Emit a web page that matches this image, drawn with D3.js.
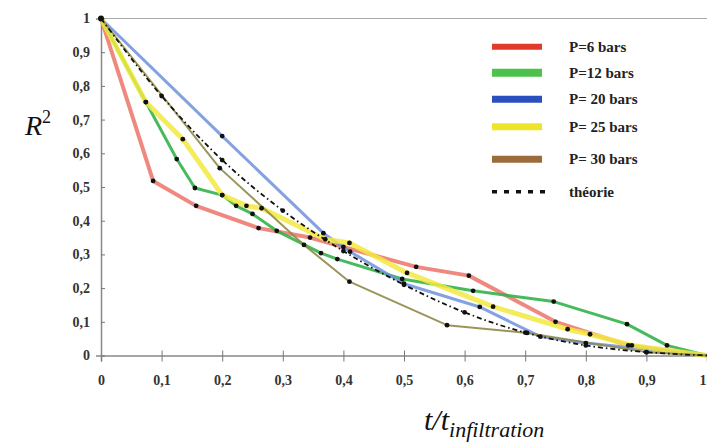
<!DOCTYPE html>
<html>
<head>
<meta charset="utf-8">
<script src="https://cdn.jsdelivr.net/npm/d3@7"></script>
<style>
  body { margin: 0; background: #fff; }
</style>
</head>
<body>
<svg id="chart"></svg>
<script>
const w = 707;
const h = 446;
const x0 = 101, x1 = 707;
const y0 = 355.5, y1 = 18.5;
const serif = "'Liberation Serif', 'Times New Roman', 'DejaVu Serif', serif";

// séries
const tRed = [0, 0.086, 0.157, 0.26, 0.345, 0.4, 0.52, 0.607, 0.75, 0.87, 1];
const rRed = [1, 0.518, 0.444, 0.378, 0.35, 0.322, 0.263, 0.237, 0.1, 0.03, 0];
const tGreen = [0, 0.074, 0.125, 0.155, 0.2, 0.223, 0.25, 0.29, 0.363, 0.39, 0.497, 0.614, 0.747, 0.868, 0.934, 1];
const rGreen = [1, 0.752, 0.583, 0.497, 0.476, 0.444, 0.42, 0.37, 0.304, 0.286, 0.227, 0.192, 0.16, 0.093, 0.03, 0];
const tBlue = [0, 0.2, 0.367, 0.411, 0.5, 0.625, 0.725, 0.8, 1];
const rBlue = [1, 0.651, 0.363, 0.308, 0.213, 0.144, 0.056, 0.037, 0];
const tYellow = [0, 0.074, 0.135, 0.2, 0.24, 0.265, 0.37, 0.41, 0.505, 0.647, 0.77, 0.807, 0.876, 1];
const rYellow = [1, 0.752, 0.642, 0.476, 0.444, 0.437, 0.345, 0.334, 0.245, 0.145, 0.078, 0.063, 0.03, 0];
const tBrown = [0, 0.196, 0.335, 0.41, 0.571, 0.703, 0.9, 1];
const rBrown = [1, 0.556, 0.328, 0.219, 0.09, 0.067, 0.01, 0];
const tTheo = [0, 0.1, 0.2, 0.3, 0.4, 0.5, 0.6, 0.7, 0.8, 0.9, 1];
const rTheo = [1, 0.77, 0.58, 0.43, 0.31, 0.21, 0.128, 0.068, 0.03, 0.01, 0];

const legendLabels = ['P=6 bars', 'P=12 bars', 'P= 20 bars', 'P= 25 bars', 'P= 30 bars', 'théorie'];
const xTicks = [0, 0.1, 0.2, 0.3, 0.4, 0.5, 0.6, 0.7, 0.8, 0.9, 1];
const yTicks = [0, 0.1, 0.2, 0.3, 0.4, 0.5, 0.6, 0.7, 0.8, 0.9, 1];

const series = [
  {t: tRed, r: rRed, color: '#ec7468', width: 4, opacity: 0.85, leg: '#e23a2a', legW: 6},
  {t: tGreen, r: rGreen, color: '#33b24a', width: 3, opacity: 0.9, leg: '#4cc24a', legW: 8},
  {t: tBlue, r: rBlue, color: '#6f90dc', width: 3, opacity: 0.85, leg: '#2a4fbf', legW: 7},
  {t: tYellow, r: rYellow, color: '#f2e93e', width: 5, opacity: 0.85, leg: '#eee52a', legW: 7},
  {t: tBrown, r: rBrown, color: '#8f8a48', width: 2, opacity: 0.9, leg: '#9b6b3a', legW: 7}
];

const svg = d3.select('#chart').attr('width', w).attr('height', h);

const x = d3.scaleLinear().domain([0, 1]).range([x0, x1]);
const y = d3.scaleLinear().domain([0, 1]).range([y0, y1]);
const fmt = d => d === 0 || d === 1 ? String(d) : String(d).replace('.', ',');

// bordure haute
svg.append('line')
  .attr('x1', x0).attr('x2', x1).attr('y1', y(1)).attr('y2', y(1))
  .attr('stroke', '#aaa').attr('stroke-width', 1.2);

const axX = svg.append('g')
  .attr('transform', 'translate(0,' + y0 + ')')
  .call(d3.axisBottom(x).tickValues(xTicks).tickFormat(fmt).tickSize(6).tickPadding(14));
axX.selectAll('.tick line').attr('y1', -5);
axX.select('.domain').attr('stroke', '#888').attr('stroke-width', 1.5);
axX.selectAll('.tick line').attr('stroke', '#777');
// le « 1 » touche le bord droit
axX.selectAll('.tick text').filter(d => d === 1).attr('text-anchor', 'end').attr('dx', -1);

const axY = svg.append('g')
  .attr('transform', 'translate(' + x0 + ',0)')
  .call(d3.axisLeft(y).tickValues(yTicks).tickFormat(fmt).tickSize(5).tickPadding(6));
axY.selectAll('.tick line').attr('x2', 4);
axY.select('.domain').attr('stroke', '#888').attr('stroke-width', 1.5);
axY.selectAll('.tick line').attr('stroke', '#777');

[axX, axY].forEach(a => {
  a.attr('font-family', serif).attr('font-size', 14);
  a.selectAll('.tick text')
    .style('font-family', serif)
    .style('font-weight', 'bold')
    .style('font-size', '14px')
    .attr('fill', '#333');
});

const line = d3.line().x(d => x(d[0])).y(d => y(d[1]));

series.forEach(s => {
  svg.append('path')
    .datum(d3.zip(s.t, s.r))
    .attr('d', line)
    .attr('fill', 'none')
    .attr('stroke', s.color)
    .attr('stroke-width', s.width)
    .attr('stroke-opacity', s.opacity)
    .attr('stroke-linejoin', 'round');
});

svg.append('path')
  .datum(d3.zip(tTheo, rTheo))
  .attr('d', d3.line().curve(d3.curveMonotoneX).x(d => x(d[0])).y(d => y(d[1])))
  .attr('fill', 'none')
  .attr('stroke', '#111')
  .attr('stroke-width', 1.8)
  .attr('stroke-dasharray', '5,3,1.5,3');

// points
series.concat([{t: tTheo, r: rTheo}]).forEach(s => {
  svg.append('g').selectAll('circle')
    .data(d3.zip(s.t, s.r).slice(1, -1))
    .enter()
    .append('circle')
    .attr('cx', d => x(d[0]))
    .attr('cy', d => y(d[1]))
    .attr('r', 2.4)
    .attr('fill', '#111');
});
svg.append('circle').attr('cx', x(0)).attr('cy', y(1)).attr('r', 3).attr('fill', '#111');

// légende
const legRows = [46.7, 72.7, 99.3, 126.7, 159.3, 191.7];
const leg = svg.append('g');
legendLabels.forEach((lab, i) => {
  if (i < series.length) {
    leg.append('line')
      .attr('x1', 492).attr('x2', 542).attr('y1', legRows[i]).attr('y2', legRows[i])
      .attr('stroke', series[i].leg).attr('stroke-width', series[i].legW);
  } else {
    leg.append('line')
      .attr('x1', 492).attr('x2', 545).attr('y1', legRows[i]).attr('y2', legRows[i])
      .attr('stroke', '#111').attr('stroke-width', 3.5).attr('stroke-dasharray', '5,7');
  }
  leg.append('text')
    .attr('x', 569).attr('y', legRows[i] + 5)
    .style('font-family', serif)
    .style('font-weight', 'bold')
    .style('font-size', '15px')
    .style('fill', '#222')
    .text(lab);
});

// titres des axes
const rt = svg.append('text')
  .attr('x', 25).attr('y', 135)
  .style('font-family', serif)
  .style('font-style', 'italic')
  .style('font-size', '28px')
  .style('fill', '#111');
rt.append('tspan').text('R');
rt.append('tspan').attr('dy', -12).style('font-size', '18px').style('font-style', 'normal').text('2');

const xt = svg.append('text')
  .attr('x', 424).attr('y', 430)
  .style('font-family', serif)
  .style('font-style', 'italic')
  .style('font-size', '30px')
  .style('fill', '#111');
xt.append('tspan').text('t/t');
xt.append('tspan').attr('dy', 7).style('font-size', '22px').text('infiltration');
</script>
</body>
</html>
